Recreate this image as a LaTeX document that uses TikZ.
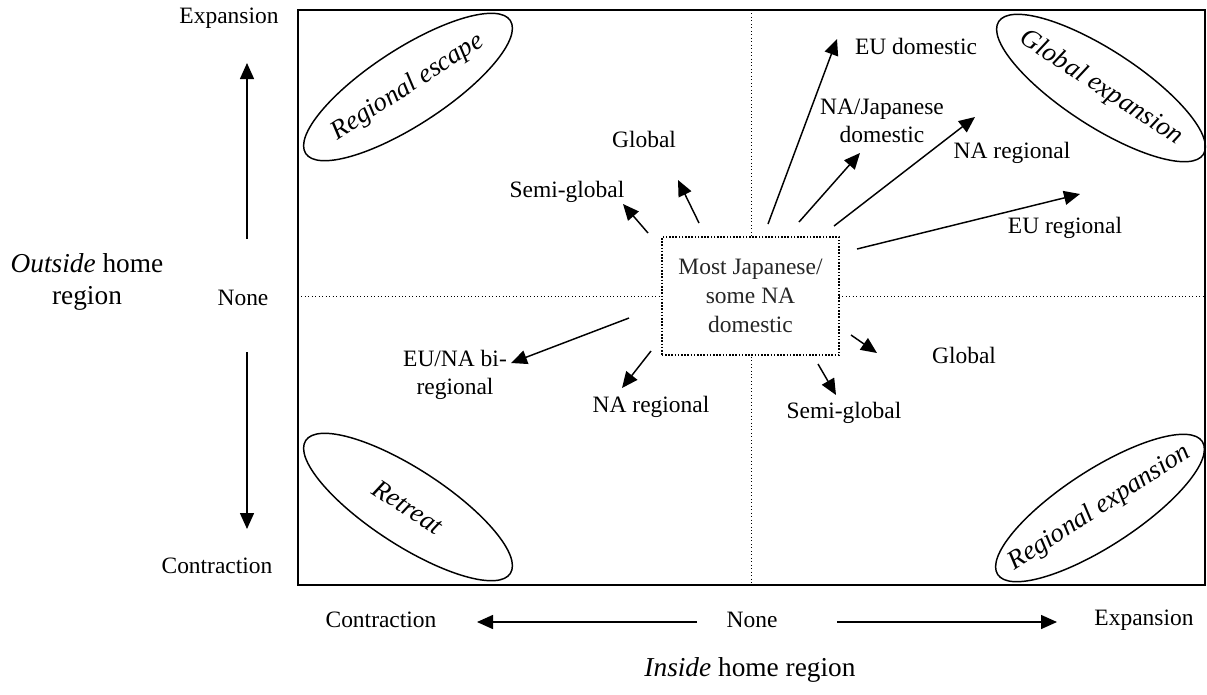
\documentclass[tikz,border=0pt]{standalone}
\usepackage{fontspec}
\setmainfont{Liberation Serif}
\usetikzlibrary{arrows.meta,shapes.geometric}
\begin{document}
\begin{tikzpicture}[x=0.75pt,y=-0.75pt,
 lbl/.style={font=\fontsize{17.6}{21}\selectfont, align=center, inner sep=0pt},
 axt/.style={font=\fontsize{20.5}{23.5}\selectfont, align=center, inner sep=0pt},
 zone/.style={draw, ellipse, line width=1.1pt, minimum width=183pt, minimum height=57pt, inner sep=0pt},
 ztext/.style={inner sep=0pt, font=\fontsize{20}{24}\selectfont\itshape},
 arr/.style={line width=1.1pt, -{Triangle[length=12pt,width=10.5pt]}},
 gridline/.style={line width=0.6pt, dotted},
 corebox/.style={draw, fill=white, line width=1.2pt, dash pattern=on 1.2pt off 1.2pt, minimum width=133pt, minimum height=88.5pt, inner sep=0pt, align=center, font=\fontsize{17.6}{21.5}\selectfont, text=black!85}]
\useasboundingbox (0,0) rectangle (1207,694);

% frame and quadrant lines
\coordinate (TL) at (298,10);
\coordinate (BR) at (1205,585);
\coordinate (MID) at (751,296);
\draw[gridline] (TL -| MID) -- (BR -| MID);
\draw[gridline] (TL |- MID) -- (BR |- MID);
\draw[line width=1.5pt] (TL) rectangle (BR);

% centre box
\node[corebox] (core) at (750.5,296) {Most Japanese/\\some NA\\domestic};

% zone ellipses
\node[zone, rotate=33] (escape) at (408,87) {};
\node[ztext, rotate=33] (escapeT) at (escape.center) {Regional escape};
\node[zone, rotate=-33] (globexp) at (1101,88) {};
\node[ztext, rotate=-33] (globexpT) at (globexp.center) {Global expansion};
\node[zone, rotate=-33] (retreat) at (408,507) {};
\node[ztext, rotate=-33] (retreatT) at (retreat.center) {Retreat};
\node[zone, rotate=33] (regexp) at (1100,508) {};
\node[ztext, rotate=33] (regexpT) at (regexp.center) {Regional expansion};

% vertical axis
\node[lbl] (vexp) at (229,18) {Expansion};
\node[lbl] (vnone) at (243,298) {None};
\node[lbl] (vcon) at (217,566) {Contraction};
\node[axt] (vtitle) at (87,282) {\textit{Outside} home\\region};
\coordinate (vupS) at (247,239);
\coordinate (vupE) at (247,63);
\coordinate (vdnS) at (247,352);
\coordinate (vdnE) at (247,529);
\draw[arr] (vupS) -- (vupE);
\draw[arr] (vdnS) -- (vdnE);

% horizontal axis
\node[lbl] (hcon) at (381,620) {Contraction};
\node[lbl] (hnone) at (752,620) {None};
\node[lbl] (hexp) at (1144,620) {Expansion};
\node[axt] (htitle) at (750,670) {\textit{Inside} home region};
\coordinate (hlS) at (697,622);
\coordinate (hlE) at (477,622);
\coordinate (hrS) at (837,622);
\coordinate (hrE) at (1057,622);
\draw[arr] (hlS) -- (hlE);
\draw[arr] (hrS) -- (hrE);

% labels
\node[lbl] (semiA) at (567,192) {Semi-global};
\node[lbl] (globA) at (644,139) {Global};
\node[lbl] (eudom) at (916,46) {EU domestic};
\node[lbl] (najap) at (882,121) {NA/Japanese\\domestic};
\node[lbl] (naregA) at (1012,153) {NA regional};
\node[lbl] (eureg) at (1065,228) {EU regional};
\node[lbl] (bireg) at (455,375) {EU/NA bi-\\regional};
\node[lbl] (naregB) at (651,407) {NA regional};
\node[lbl] (globB) at (964,355) {Global};
\node[lbl] (semiB) at (844,413) {Semi-global};

% arrow end points
\coordinate (a1s) at (648,233); \coordinate (a1e) at (623,204);
\coordinate (a2s) at (699,223); \coordinate (a2e) at (678,180);
\coordinate (a3s) at (768,224); \coordinate (a3e) at (837,39);
\coordinate (a4s) at (799,222); \coordinate (a4e) at (860,153);
\coordinate (a5s) at (834,226); \coordinate (a5e) at (975,117);
\coordinate (a6s) at (857,249); \coordinate (a6e) at (1080,194);
\coordinate (a7s) at (629,318); \coordinate (a7e) at (511,363);
\coordinate (a8s) at (651,351); \coordinate (a8e) at (622,388);
\coordinate (a9s) at (851,335); \coordinate (a9e) at (877,353);
\coordinate (a10s) at (818,364); \coordinate (a10e) at (836,395);
\draw[arr] (a1s) -- (a1e);
\draw[arr] (a2s) -- (a2e);
\draw[arr] (a3s) -- (a3e);
\draw[arr] (a4s) -- (a4e);
\draw[arr] (a5s) -- (a5e);
\draw[arr] (a6s) -- (a6e);
\draw[arr] (a7s) -- (a7e);
\draw[arr] (a8s) -- (a8e);
\draw[arr] (a9s) -- (a9e);
\draw[arr] (a10s) -- (a10e);
\end{tikzpicture}
\end{document}
